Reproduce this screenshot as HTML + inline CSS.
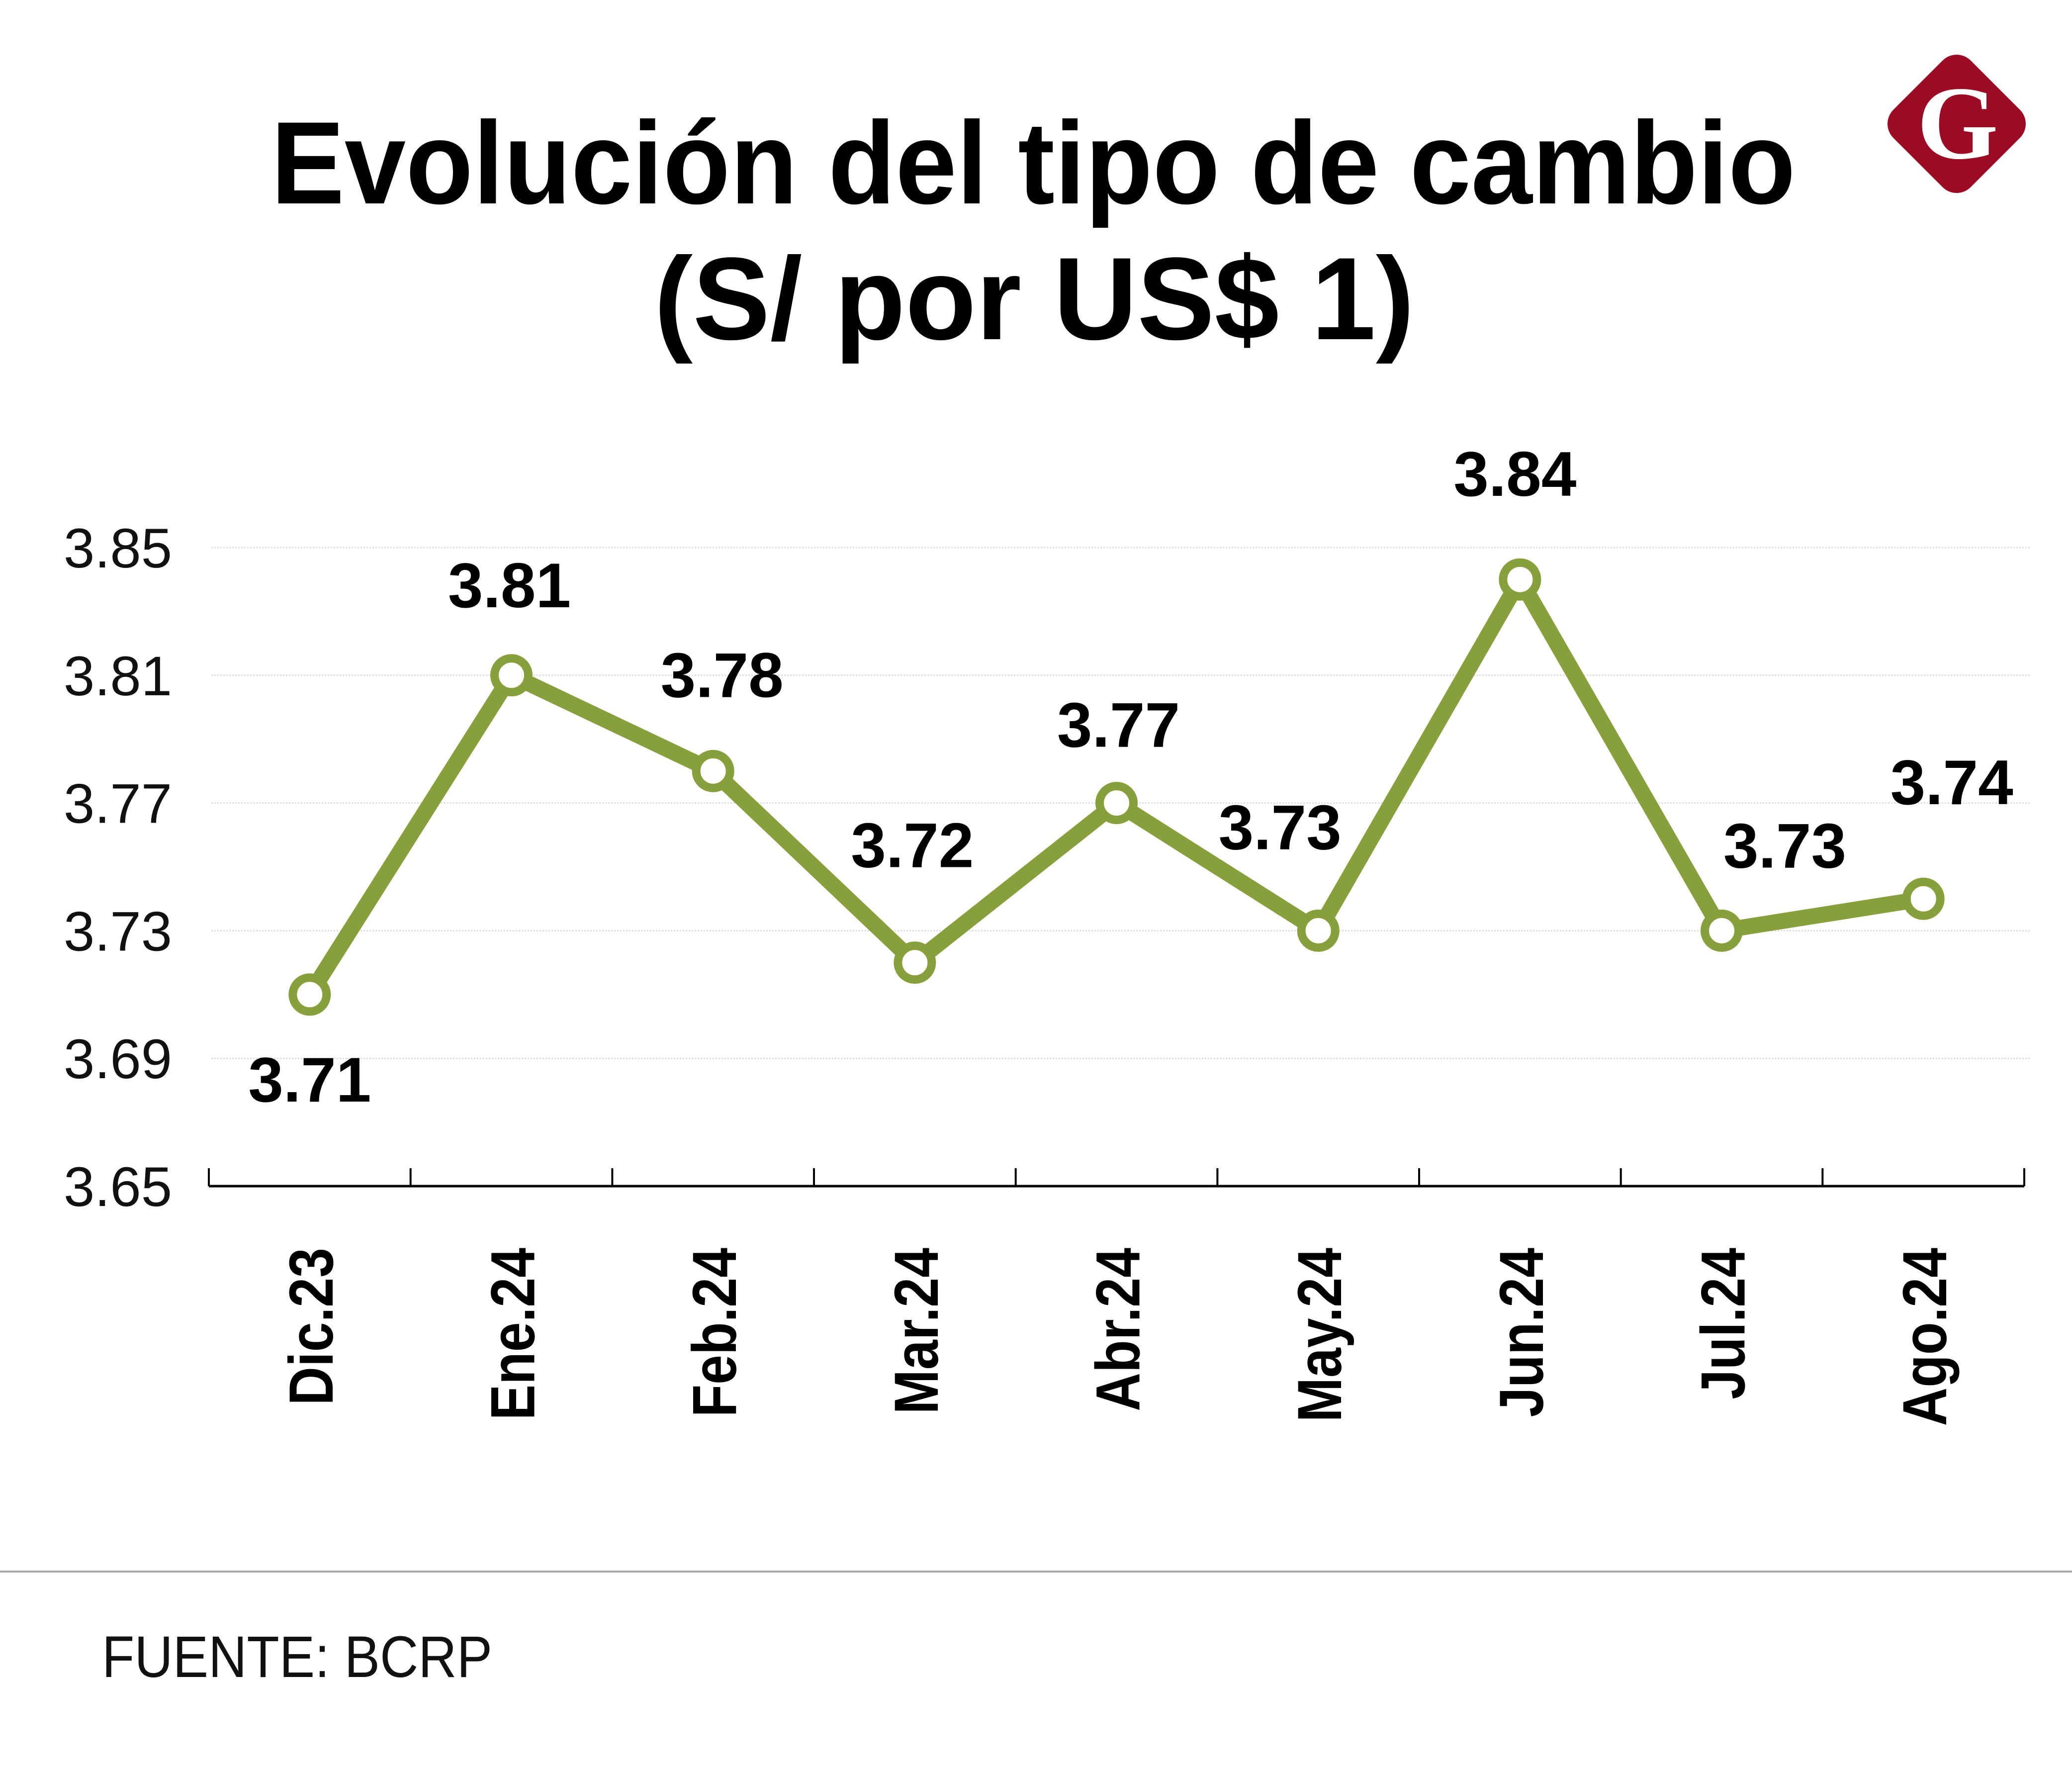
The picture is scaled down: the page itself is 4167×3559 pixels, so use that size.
<!DOCTYPE html>
<html><head><meta charset="utf-8"><style>
html,body{margin:0;padding:0;background:#fff;}
svg{display:block;}
</style></head><body>
<svg id="chart" width="4167" height="3559" viewBox="0 0 4167 3559" xmlns="http://www.w3.org/2000/svg">
<rect width="4167" height="3559" fill="#fff"/>
<g font-family="'Liberation Sans', sans-serif" font-weight="bold" fill="#000" text-anchor="middle">
<text x="2078" y="409" font-size="236" textLength="3066" lengthAdjust="spacingAndGlyphs">Evolución del tipo de cambio</text>
<text x="2080" y="682" font-size="236" textLength="1529" lengthAdjust="spacingAndGlyphs">(S/ por US$ 1)</text>
</g>
<g>
<rect x="3825" y="139" width="220" height="220" rx="40" fill="#9c0a23" transform="rotate(45 3935 249)"/>
<text x="3937" y="318" font-family="'Liberation Serif', serif" font-weight="bold" font-size="210" fill="#fff" text-anchor="middle">G</text>
</g>
<g id="grid"></g>
<g id="yaxis"></g>
<g id="xaxis"></g>
<g id="series"></g>
<line x1="0" y1="3160" x2="4167" y2="3160" stroke="#aaa" stroke-width="4"/>
<text x="205" y="3372" font-family="'Liberation Sans', sans-serif" font-size="118" fill="#111" textLength="785" lengthAdjust="spacingAndGlyphs">FUENTE: BCRP</text>
</svg>
<script>
const categories = ["Dic.23","Ene.24","Feb.24","Mar.24","Abr.24","May.24","Jun.24","Jul.24","Ago.24"];
const values = [3.71, 3.81, 3.78, 3.72, 3.77, 3.73, 3.84, 3.73, 3.74];
const valueLabels = ["3.71","3.81","3.78","3.72","3.77","3.73","3.84","3.73","3.74"];
const yTicks = [3.65, 3.69, 3.73, 3.77, 3.81, 3.85];
const yTickLabels = ["3.65","3.69","3.73","3.77","3.81","3.85"];
// label placement offsets relative to each point (layout, not data)
const labelOffsetX = [0, -4, 18, -5, 4, -77, -10, 127, 57];
const labelOffsetY = [215, -137, -149, -192, -113, -164, -168, -127, -190];

const NS = "http://www.w3.org/2000/svg";
const X0 = 420, X1 = 4071, Y0 = 2385, Y1 = 1101;
const band = (X1 - X0) / categories.length;
function xPos(i){ return X0 + band * (i + 0.5); }
function yPos(v){ return Y0 - (v - 3.65) / (3.85 - 3.65) * (Y0 - Y1); }
function mk(tag, attrs, parent){ const e = document.createElementNS(NS, tag); for (const k in attrs) e.setAttribute(k, attrs[k]); parent.appendChild(e); return e; }

const grid = document.getElementById('grid');
const yaxis = document.getElementById('yaxis');
yTicks.forEach((t, i) => {
  if (i > 0) {
    const gl = mk('line', {x1: 425, x2: 4085, y1: yPos(t), y2: yPos(t), stroke: '#dcdcdc', 'stroke-width': 3, 'stroke-dasharray': '3 3'}, grid);
    
    
  }
  const tl = mk('text', {x: 346, y: yPos(t) + 40, 'text-anchor': 'end', 'font-family': "'Liberation Sans', sans-serif", 'font-size': 112, fill: '#111'}, yaxis);
  tl.textContent = yTickLabels[i];
  
  
});

const xaxis = document.getElementById('xaxis');
const al = mk('line', {x1: X0, x2: X1, y1: Y0, y2: Y0, stroke: '#000', 'stroke-width': 5}, xaxis);


for (let i = 0; i <= categories.length; i++) {
  const tk = mk('line', {x1: X0 + band * i, x2: X0 + band * i, y1: Y0, y2: Y0 - 36, stroke: '#000', 'stroke-width': 4}, xaxis);
  
  
}
categories.forEach((c, i) => {
  const x = xPos(i) + 46, y = 2509;
  const t = mk('text', {x: 0, y: 0, transform: `translate(${x},${y}) rotate(-90) scale(0.86,1)`, 'text-anchor': 'end', 'font-family': "'Liberation Sans', sans-serif", 'font-weight': 'bold', 'font-size': 125, fill: '#000'}, xaxis);
  t.textContent = c;
  
  
});

const series = document.getElementById('series');
const pts = values.map((v, i) => xPos(i) + ',' + yPos(v)).join(' ');
const line = mk('polyline', {points: pts, fill: 'none', stroke: '#88a03c', 'stroke-width': 32, 'stroke-linejoin': 'miter'}, series);


values.forEach((v, i) => {
  const c = mk('circle', {cx: xPos(i), cy: yPos(v), r: 34, fill: '#fff', stroke: '#88a03c', 'stroke-width': 17}, series);
  
  
  const t = mk('text', {x: xPos(i) + labelOffsetX[i], y: yPos(v) + labelOffsetY[i], 'text-anchor': 'middle', 'font-family': "'Liberation Sans', sans-serif", 'font-weight': 'bold', 'font-size': 127, fill: '#000'}, series);
  t.textContent = valueLabels[i];
  
  
});
</script>
</body></html>
